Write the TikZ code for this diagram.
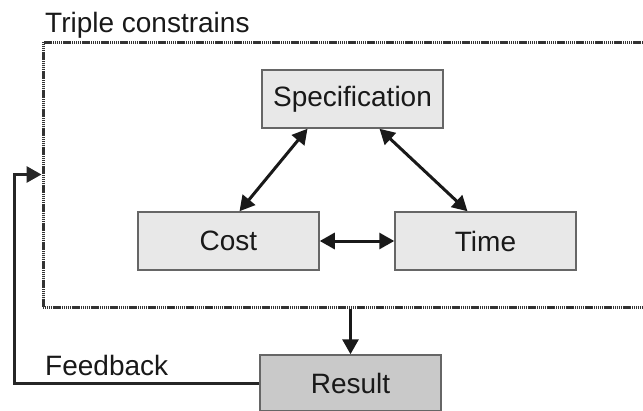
\documentclass[tikz,border=0pt]{standalone}
\usepackage{fontspec}
\setmainfont{Liberation Sans}
\usetikzlibrary{arrows.meta}
\begin{document}
\begin{tikzpicture}[x=1pt,y=-1pt,
  box/.style={draw=black!60, line width=1.5pt, fill=black!9, minimum width=181pt, minimum height=58pt, inner sep=0pt, font=\fontsize{28pt}{32pt}\selectfont, text=black!90},
  resbox/.style={box, fill=black!21, minimum height=56pt},
  framebox/.style={draw=black!80, line width=3pt, dash pattern=on 1.3pt off 0.6pt, minimum width=617pt, minimum height=265pt, inner sep=0pt},
  lbl/.style={font=\fontsize{28pt}{32pt}\selectfont, text=black!90, inner sep=0pt, anchor=base west},
  conn/.style={line width=3pt, black!90, {Triangle[length=15pt,width=16pt]}-{Triangle[length=15pt,width=16pt]}},
  oneway/.style={line width=3pt, black!90, -{Triangle[length=15pt,width=16pt]}}
]
\clip (0,0) rectangle (643,410);
\fill[white] (0,0) rectangle (643,410);
\node[framebox] (frame) at (351.5,174.5) {};
\node[lbl] (tc) at (45,32) {Triple constrains};
\node[box] (spec) at (352.5,99) {Specification};
\node[box] (cost) at (228.5,241) {Cost};
\node[box] (time) at (485.5,241) {Time};
\node[resbox] (result) at (350.5,383) {Result};
\node[lbl] (fb) at (45,375) {Feedback};
\coordinate (fbc) at (14,383);
\draw[conn] ([xshift=-45pt]spec.south) -- ([xshift=11pt]cost.north);
\draw[conn] ([xshift=27pt]spec.south) -- ([xshift=-18pt]time.north);
\draw[conn] (cost.east) -- (time.west);
\draw[oneway] (frame.south -| result.north) -- (result.north);
\draw[oneway, black!85] (result.west) -- (fbc) |- (frame.west);
\end{tikzpicture}
\end{document}
